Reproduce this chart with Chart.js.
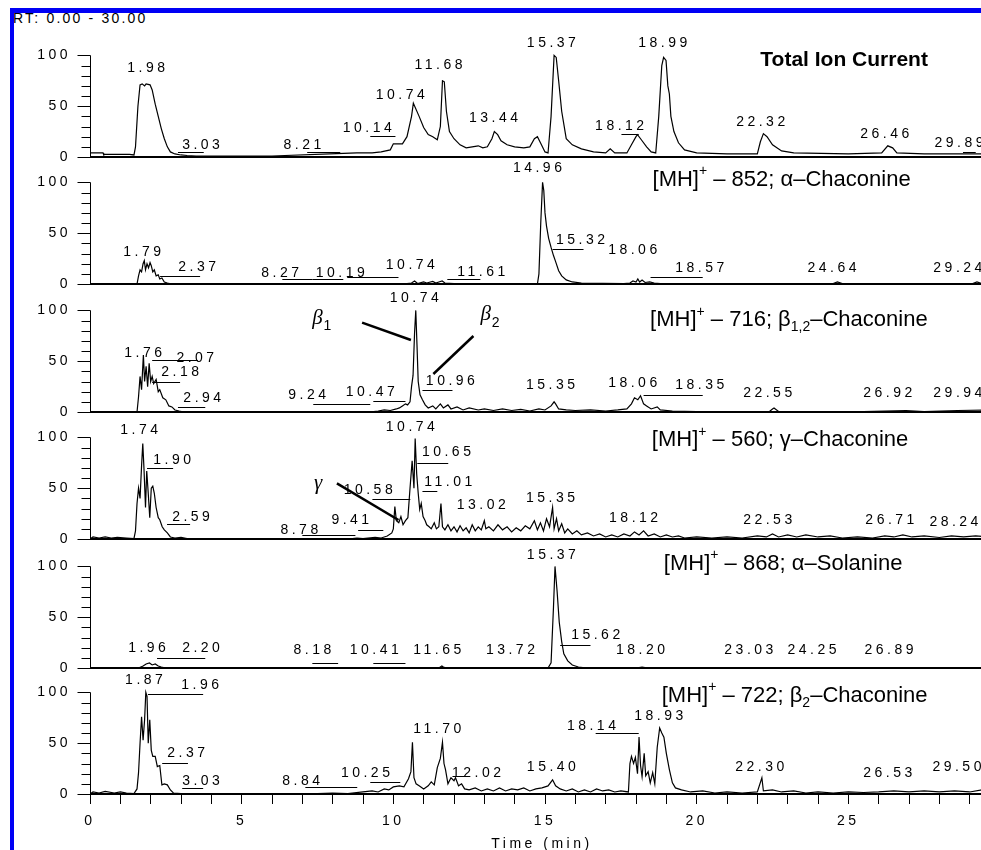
<!DOCTYPE html>
<html><head><meta charset="utf-8">
<script src="https://cdn.jsdelivr.net/npm/chart.js@4/dist/chart.umd.min.js"></script>
<style>
html,body{margin:0;padding:0;background:#fff;overflow:hidden;width:981px;height:850px;position:relative;}
canvas{position:absolute;left:0;}
#bl{position:absolute;left:10px;top:8px;width:4px;height:842px;background:#0000f5;z-index:5}
#bt{position:absolute;left:10px;top:8px;width:971px;height:5px;background:#0000f5;z-index:5}
#rt{position:absolute;left:13px;top:10px;font:14px "Liberation Sans";letter-spacing:2.2px;color:#000;z-index:4;line-height:16px}
</style></head><body>
<div id="rt">RT: 0.00 - 30.00</div>
<div id="bt"></div><div id="bl"></div>
<script>
// ---------------- DATA ----------------
const xTicks = [0, 5, 10, 15, 20, 25];
const yTicks = [0, 50, 100];

// Panel 1: Total Ion Current
const ticTime  = [0,0.43,0.45,1.3,1.45,1.5,1.58,1.65,1.72,1.8,1.85,1.98,2.05,2.15,2.25,2.35,2.45,2.55,2.65,2.8,3.0,3.2,3.5,6,7.9,8.8,9.3,9.6,9.9,10.0,10.3,10.45,10.6,10.66,10.85,11.0,11.15,11.3,11.45,11.55,11.62,11.68,11.75,11.85,12.0,12.2,12.4,12.6,12.8,12.95,13.1,13.25,13.33,13.44,13.55,13.75,14.0,14.3,14.5,14.65,14.75,14.85,15.0,15.1,15.2,15.3,15.37,15.45,15.55,15.7,15.9,16.2,16.6,17.0,17.15,17.3,17.7,17.85,18.0,18.05,18.2,18.35,18.5,18.65,18.75,18.85,18.91,18.99,19.05,19.1,19.15,19.25,19.4,19.6,20,21,22.0,22.1,22.2,22.32,22.5,22.8,23.2,25,26.1,26.3,26.46,26.6,27.5,30];
const ticValue = [4,4,2.5,2.5,2,10,50,71,72,70,72,71,66,52,40,28,18,10,5,3,2,1.5,1,1,3,4,4,5,7,13,13,20,40,53,40,29,22,20,17,30,75,74,45,25,18,12,9,10,11,9,10,18,25,22,16,12,10,9,10,18,20,14,5,4,40,100,98,75,45,18,12,8,5,4,8,4,4,12,20,22,16,10,5,4,40,90,98,95,70,62,40,25,14,7,4,3,3,15,23,20,12,6,4,3,4,11,9,4,3,3];
const ticPeaks = ['1.98','3.03','8.21','10.14','10.74','11.68','13.44','15.37','18.12','18.99','22.32','26.46','29.89'];

// Panel 2: [MH]+ 852, alpha-chaconine
const acTime  = [0,1.55,1.6,1.65,1.7,1.75,1.79,1.83,1.88,1.93,1.98,2.02,2.07,2.12,2.18,2.25,2.3,2.37,2.45,2.55,2.7,10.3,10.6,10.7,10.74,10.8,11.0,11.1,11.3,11.4,11.5,11.61,11.7,12.0,14.75,14.8,14.86,14.92,14.96,15.0,15.05,15.12,15.2,15.28,15.35,15.45,15.55,15.7,15.9,16.2,17.6,17.8,17.9,18.0,18.06,18.12,18.2,18.3,18.45,18.6,18.8,24.5,24.64,24.8,29.1,29.24,29.4,30];
const acValue = [0,0,8,14,12,20,23,14,20,16,21,18,12,14,8,9,5,6,2,1,0,0,1,3,2,0.5,2,1,2.5,1,2,3,1,0.5,0,10,60,100,92,70,57,45,36,28,22,13,8,4,2,1,0.5,1,3,2,5,2,4,1.5,2,1,0.5,0.5,2,0.5,0.5,2,0.5,0.5];
const acPeaks = ['1.79','2.37','8.27','10.19','10.74','11.61','14.96','15.32','18.06','18.57','24.64','29.24'];

// Panel 3: [MH]+ 716, beta1,2-chaconine
const b12Time  = [0,1.55,1.6,1.65,1.7,1.76,1.8,1.85,1.9,1.95,2.0,2.05,2.1,2.18,2.25,2.3,2.4,2.5,2.6,2.7,2.8,2.94,3.1,9.2,9.5,9.7,9.9,10.1,10.2,10.3,10.4,10.47,10.55,10.6,10.65,10.7,10.74,10.78,10.82,10.88,10.96,11.05,11.15,11.3,11.4,11.55,11.65,11.8,11.9,12.1,12.3,12.5,12.8,13.0,13.3,13.6,13.9,14.2,14.5,14.8,15.0,15.2,15.3,15.35,15.45,15.7,16.0,16.5,17.0,17.4,17.7,17.85,17.95,18.06,18.15,18.25,18.35,18.5,18.7,18.8,19.2,20,22.4,22.5,22.55,22.7,25.5,26.9,27.5,28.6,29.9,30];
const b12Value = [0,0,15,35,22,56,30,45,25,48,30,35,28,32,20,22,14,12,6,5,2,1,0,0,1,2,1.5,3,4,6,8,7,10,25,36,78,100,66,30,17,12,7,4,6,3,8,4,7,3,5,2,4,2,3,1.5,3,1.5,2.5,1,3,2,6,10,8,3,2,1.5,2,1,2,3,8,14,12,16,8,6,3,5,2,1,0.5,0.5,3,4,0.5,0.5,1.5,0.5,1.5,2,1];
const b12Peaks = ['1.76','2.07','2.18','2.94','9.24','10.47','10.74','10.96','15.35','18.06','18.35','22.55','26.92','29.94'];

// Panel 4: [MH]+ 560, gamma-chaconine
const gTime  = [0,0.1,0.3,0.5,0.7,0.9,1.2,1.45,1.5,1.55,1.6,1.65,1.7,1.74,1.78,1.83,1.87,1.92,1.97,2.02,2.07,2.12,2.18,2.25,2.3,2.38,2.45,2.55,2.65,2.8,3.0,3.2,3.5,8.5,8.8,9.0,9.4,9.6,9.8,9.95,10.0,10.05,10.1,10.18,10.25,10.32,10.4,10.48,10.55,10.62,10.68,10.72,10.77,10.82,10.87,10.92,10.98,11.05,11.1,11.18,11.25,11.35,11.42,11.5,11.57,11.62,11.7,11.8,11.9,12.0,12.1,12.2,12.3,12.4,12.5,12.6,12.7,12.8,12.9,13.0,13.05,13.15,13.3,13.45,13.6,13.75,13.9,14.05,14.2,14.35,14.5,14.65,14.75,14.85,14.95,15.05,15.15,15.25,15.3,15.38,15.45,15.55,15.65,15.75,15.9,16.05,16.2,16.4,16.6,16.8,17.0,17.2,17.4,17.6,17.8,17.95,18.1,18.25,18.4,18.6,18.8,19.0,19.2,19.4,19.6,20.0,20.5,21.0,21.5,22.0,22.3,22.5,22.7,23.0,23.3,23.6,24.0,24.4,24.8,25.3,25.8,26.2,26.5,26.8,27.1,27.5,28.0,28.4,28.8,29.2,29.6,30];
const gValue = [0,2,1,2,1,1.5,1,0.5,8,35,50,40,72,94,69,31,67,45,21,50,52,45,31,21,19,12,9,6,2,1,1.5,0.5,0,0,1,0.5,1.5,1,3,6,10,32,18,16,22,14,18,21,50,77,50,99,64,45,29,35,22,18,14,12,10,16,10,12,35,12,9,14,8,12,7,13,8,11,6,14,8,12,9,18,10,12,8,14,9,12,7,11,8,13,10,18,9,16,8,20,12,31,10,20,8,15,6,10,5,8,4,6,3,5,2,4,2,5,3,7,4,8,3,5,2,4,2,3,1,2,1,2,1,3,2,5,2,4,2,4,2,3,1,2,1,3,2,4,2,3,1.5,3,2,3,2,2];
const gPeaks = ['1.74','1.90','2.59','8.78','9.41','10.58','10.74','10.65','11.01','13.02','15.35','18.12','22.53','26.71','28.24'];

// Panel 5: [MH]+ 868, alpha-solanine
const sTime  = [0,1.6,1.75,1.85,1.96,2.05,2.15,2.25,2.35,2.5,11.5,11.6,11.65,11.75,15.1,15.2,15.28,15.33,15.4,15.47,15.55,15.62,15.75,15.9,16.1,16.4,18.0,18.2,18.4,30];
const sValue = [0,0,2,4,5,3,4,2,1,0,0,2,1,0,0,5,60,100,75,45,26,14,7,3,1,0,0,1,0,0];
const sPeaks = ['1.96','2.20','8.18','10.41','11.65','13.72','15.37','15.62','18.20','23.03','24.25','26.89'];

// Panel 6: [MH]+ 722, beta2-chaconine
const b2Time  = [0,0.1,0.3,0.5,0.8,1.0,1.2,1.45,1.55,1.6,1.65,1.7,1.75,1.8,1.84,1.88,1.92,1.97,2.02,2.07,2.15,2.22,2.3,2.37,2.45,2.55,2.65,2.75,3.0,3.5,7.0,8.0,8.5,9.0,9.3,9.5,9.7,9.85,10.0,10.2,10.35,10.5,10.58,10.63,10.68,10.75,10.85,11.0,11.15,11.25,11.35,11.45,11.55,11.62,11.67,11.72,11.8,11.9,12.0,12.05,12.15,12.25,12.35,12.5,12.7,12.9,13.1,13.3,13.5,13.7,13.9,14.1,14.3,14.5,14.7,14.9,15.1,15.25,15.35,15.5,15.7,15.9,16.1,16.3,16.5,16.7,16.9,17.1,17.3,17.5,17.75,17.8,17.85,17.92,17.98,18.05,18.1,18.15,18.2,18.27,18.32,18.4,18.47,18.55,18.62,18.7,18.78,18.85,18.92,19.0,19.1,19.2,19.3,19.5,19.8,20.2,20.6,21.0,21.5,22.0,22.15,22.2,22.5,22.8,23.2,23.6,24.0,24.5,25.0,25.5,26.0,26.5,27.0,27.5,28.0,28.5,29.0,29.4,29.7,30];
const b2Value = [0,2,1,2.5,1,2,1,0.5,5,21,50,76,53,73,100,96,50,73,43,37,37,27,28,9,10,9,4,1,0.5,0.5,0,1,0.5,2,3,2,5,4,7,8,7,15,22,51,16,10,8,5,8,12,9,26,35,51,30,24,10,16,13,16,8,10,5,4,6,3,5,3,6,3,5,4,6,3,5,6,8,14,8,5,3,5,2,4,2,5,3,4,2,3,2,30,37,30,36,20,56,28,17,40,18,22,11,21,10,46,65,60,56,40,24,11,6,4,2,3,1,2,1,2,16,3,4,2,3,1,2,1,2,1.5,2,3,2,3,2,3,2,4,3,2];
const b2Peaks = ['1.87','1.96','2.37','3.03','8.84','10.25','11.70','12.02','15.40','18.14','18.93','22.30','26.53','29.50'];

// ---------------- LAYOUT (positions of annotations, in data units) ----------------
// [t, v] of label centre, optional leader line [tFrom, tTo, v]
const ticPeakAt = [[1.85,87.6],[3.66,11.8,2.9,3.75,4.5],[7.0,11.8,7.16,8.25,4.9],[9.14,28.5,9.24,10.07,20.7],[10.23,61],[11.49,90.5],[13.3,38.4],[15.21,112],[17.46,30.5,17.52,18.09,22.6],[18.88,112],[22.11,34.4],[26.2,22.6],[28.65,13.8,28.78,29.2,4.9]];
const acPeakAt = [[1.72,31.5],[3.53,16.7,2.31,3.63,7.9],[6.27,10.8,6.34,7.33,4.9],[8.25,10.8,7.33,8.35,4.9],[10.56,18.7,8.48,10.17,6.9],[12.9,11.8,11.78,12.87,4.9],[14.75,114],[16.17,43.3,15.25,16.27,34.4],[17.89,33.5],[20.1,15.7,18.48,20.2,6.9],[24.46,15.7],[28.61,15.7]];
const b12PeakAt = [[1.75,58],[3.47,53,2.05,3.56,51],[2.97,39.4,2.05,2.97,29.5],[3.7,13.8,2.9,3.8,4.9],[7.16,16.7,7.36,9.24,7.9],[9.24,19.7,9.34,10.4,10.8],[10.69,112.2],[11.88,30.5,10.96,11.95,21.7],[15.18,26.6],[17.89,28.5],[20.1,26.6,18.25,20.2,16.7],[22.34,18.7],[26.3,18.7],[28.61,18.7]];
const gPeakAt = [[1.62,107.3],[2.71,77.8,1.88,2.74,69.9],[3.33,21.7,2.54,3.3,14.8],[6.9,8.9,7.0,8.75,3.9],[8.58,18.7,8.84,9.67,8.9],[9.17,48.2,9.31,10.56,39.4],[10.56,110],[11.75,85.6,10.79,11.81,74.8],[11.81,56,10.96,11.45,47.2],[12.9,33.5],[15.18,40.4],[17.92,20.7],[22.34,18.7],[26.37,18.7],[28.48,16.7]];
const sPeakAt = [[1.88,19.7],[3.66,19.7,2.21,3.8,9.8],[7.33,17.7,7.33,8.18,4.9],[9.37,17.7,9.34,10.4,4.9],[11.45,17.7],[13.86,17.7],[15.21,111.2],[16.67,32.5,15.5,16.5,22.6],[18.15,17.7],[21.72,17.7],[23.8,17.7],[26.34,17.7]];
const b2PeakAt = [[1.78,112.2],[3.63,107.3,1.91,3.73,98.4],[3.17,40.4,2.38,3.23,30.5],[3.66,12.8,3.04,3.73,5.9],[6.96,12.8,7.1,8.81,6.9],[9.08,20.7,9.24,10.23,11.8],[11.45,64],[12.74,20.7,11.95,12.44,17.7],[15.21,26.6],[16.53,66.9,16.67,18.09,60],[18.75,76.8],[22.08,26.6],[26.3,20.7],[28.58,26.6]];

const BASES = [157, 284, 412, 539, 668, 794];
const PANEL_H = 127;
const NUM_FONT = '14px "Liberation Sans"';
const SPACING = '3.5px';

function drawRich(ctx, segs, cx, cy, size, bold){
  const fam = '"Liberation Sans"';
  ctx.letterSpacing = '0px';
  const fonts = segs.map(s => (bold ? 'bold ' : '') + (s[1] ? Math.round(size*0.62) : size) + 'px ' + fam);
  let w = 0;
  const ws = segs.map((s,i) => { ctx.font = fonts[i]; const m = ctx.measureText(s[0]).width; w += m; return m; });
  let xx = cx - w/2;
  ctx.textAlign = 'left'; ctx.textBaseline = 'middle';
  segs.forEach((s,i) => {
    ctx.font = fonts[i];
    const dy = s[1] === 'sup' ? -size*0.38 : (s[1] === 'sub' ? size*0.32 : 0);
    ctx.fillText(s[0], xx, cy + dy);
    xx += ws[i];
  });
}

function makePlugin(cfg){
  return {
    id: 'panelDeco',
    beforeDraw(chart){ chart.ctx.letterSpacing = SPACING; },
    afterDatasetsDraw(chart){
      const {ctx, chartArea} = chart;
      const x = chart.scales.x, y = chart.scales.y;
      ctx.save();
      ctx.strokeStyle = '#000'; ctx.fillStyle = '#000';
      // baseline
      const y0 = Math.round(y.getPixelForValue(0));
      ctx.lineWidth = 2;
      ctx.beginPath(); ctx.moveTo(chartArea.left, y0); ctx.lineTo(chartArea.right, y0); ctx.stroke();
      // y axis comb
      ctx.lineWidth = 1;
      const ax = chartArea.left + 0.5;
      ctx.beginPath(); ctx.moveTo(ax, y0); ctx.lineTo(ax, Math.round(y.getPixelForValue(100)) + 0.5); ctx.stroke();
      for (let v = 0; v <= 100; v += 10){
        const py = Math.round(y.getPixelForValue(v)) + 0.5;
        const len = (v % 50 === 0) ? 13 : 9;
        ctx.beginPath(); ctx.moveTo(ax - len, py); ctx.lineTo(ax, py); ctx.stroke();
      }
      // peak labels and leader lines
      ctx.font = NUM_FONT; ctx.letterSpacing = SPACING;
      ctx.textAlign = 'center'; ctx.textBaseline = 'middle';
      cfg.peaks.forEach((txt, i) => {
        const p = cfg.pos[i];
        ctx.fillText(txt, x.getPixelForValue(p[0]) + 1.75, y.getPixelForValue(p[1]));
        if (p.length > 2){
          const ly = Math.round(y.getPixelForValue(p[4])) + 0.5;
          ctx.lineWidth = 1;
          ctx.beginPath(); ctx.moveTo(x.getPixelForValue(p[2]), ly); ctx.lineTo(x.getPixelForValue(p[3]), ly); ctx.stroke();
        }
      });
      // arrows / greek annotations
      (cfg.notes || []).forEach(n => {
        ctx.letterSpacing = '0px';
        ctx.font = 'italic 21px "Liberation Serif"';
        ctx.textAlign = 'center'; ctx.textBaseline = 'middle';
        const nx = x.getPixelForValue(n.t), ny = y.getPixelForValue(n.v);
        ctx.fillText(n.sym, nx, ny);
        if (n.sub){ ctx.font = '14px "Liberation Sans"'; ctx.textAlign = 'left'; ctx.fillText(n.sub, nx + 6, ny + 8); }
        ctx.lineWidth = 2.5;
        ctx.beginPath();
        ctx.moveTo(x.getPixelForValue(n.line[0]), y.getPixelForValue(n.line[1]));
        ctx.lineTo(x.getPixelForValue(n.line[2]), y.getPixelForValue(n.line[3]));
        ctx.stroke();
      });
      // panel title
      ctx.fillStyle = '#000';
      drawRich(ctx, cfg.title, x.getPixelForValue(cfg.titleAt[0]), y.getPixelForValue(cfg.titleAt[1]), cfg.titleSize, cfg.titleBold);
      if (cfg.last){
        ctx.font = NUM_FONT; ctx.letterSpacing = SPACING; ctx.textAlign = 'center'; ctx.textBaseline = 'middle';
        ctx.fillText('Time (min)', x.getPixelForValue(14.9), chart.height - 6);
      }
      ctx.restore();
      ctx.letterSpacing = SPACING;
    }
  };
}

function makePanel(i, times, values, cfg){
  const last = i === 5;
  const top = BASES[i] - PANEL_H;
  const h = last ? 850 - top : PANEL_H + 9;
  const c = document.createElement('canvas');
  c.width = 1006; c.height = h;
  c.style.top = top + 'px'; c.style.width = '1006px'; c.style.height = h + 'px';
  c.style.zIndex = 1;
  document.body.appendChild(c);
  cfg.last = last;
  new Chart(c, {
    type: 'line',
    data: { datasets: [{ data: times.map((t, j) => ({x: t, y: values[j]})), borderColor: '#000', borderWidth: 1.2, pointRadius: 0, tension: 0, fill: false }] },
    options: {
      responsive: false, animation: false, events: [], devicePixelRatio: 1,
      layout: { padding: { left: 0, right: 6, top: 0, bottom: last ? 0 : 9 } },
      plugins: { legend: { display: false }, tooltip: { enabled: false } },
      scales: {
        x: {
          type: 'linear', min: 0, max: 30, display: last,
          afterBuildTicks(s){ const t = []; for (let k = 0; k <= 30; k++) t.push({value: k}); s.ticks = t; },
          afterFit(s){ s.height = last ? 56 : 0; s.paddingLeft = 0; s.paddingRight = 0; },
          grid: { display: true, drawOnChartArea: false, drawTicks: true, tickLength: 10, color: '#000', lineWidth: 1 },
          border: { display: false },
          ticks: { autoSkip: false, maxRotation: 0, minRotation: 0, padding: 9, color: '#000', font: { family: 'Liberation Sans', size: 14 },
                   callback: v => (xTicks.includes(v) ? String(v) : '') }
        },
        y: {
          min: 0, max: 125,
          afterBuildTicks(s){ s.ticks = yTicks.map(v => ({value: v})); },
          afterFit(s){ s.width = 90; s.paddingTop = 0; s.paddingBottom = 0; },
          grid: { display: false, drawTicks: false },
          border: { display: false },
          ticks: { padding: 19, color: '#000', font: { family: 'Liberation Sans', size: 14 }, callback: v => String(v) }
        }
      }
    },
    plugins: [makePlugin(cfg)]
  });
}

makePanel(0, ticTime, ticValue, { peaks: ticPeaks, pos: ticPeakAt, title: [['Total Ion Current','']], titleAt: [24.86, 95.5], titleSize: 21, titleBold: true });
makePanel(1, acTime, acValue, { peaks: acPeaks, pos: acPeakAt, title: [['[MH]',''],['+','sup'],[' \u2013 852; \u03b1\u2013Chaconine','']], titleAt: [22.8, 102.4], titleSize: 22 });
makePanel(2, b12Time, b12Value, { peaks: b12Peaks, pos: b12PeakAt, title: [['[MH]',''],['+','sup'],[' \u2013 716; \u03b2',''],['1,2','sub'],['\u2013Chaconine','']], titleAt: [23.04, 90.5], titleSize: 22,
  notes: [ { sym: '\u03b2', sub: '1', t: 7.5, v: 92.5, line: [8.97, 87.9, 10.58, 70.9] },
           { sym: '\u03b2', sub: '2', t: 13.05, v: 95.5, line: [12.64, 74.8, 11.32, 37.4] } ] });
makePanel(3, gTime, gValue, { peaks: gPeaks, pos: gPeakAt, title: [['[MH]',''],['+','sup'],[' \u2013 560; \u03b3\u2013Chaconine','']], titleAt: [22.75, 97.4], titleSize: 22,
  notes: [ { sym: '\u03b3', t: 7.52, v: 55.1, line: [8.14, 54.8, 10.17, 18.7] } ] });
makePanel(4, sTime, sValue, { peaks: sPeaks, pos: sPeakAt, title: [['[MH]',''],['+','sup'],[' \u2013 868; \u03b1\u2013Solanine','']], titleAt: [22.85, 102.4], titleSize: 22 });
makePanel(5, b2Time, b2Value, { peaks: b2Peaks, pos: b2PeakAt, title: [['[MH]',''],['+','sup'],[' \u2013 722; \u03b2',''],['2','sub'],['\u2013Chaconine','']], titleAt: [23.23, 96.5], titleSize: 22 });
</script>
</body></html>
